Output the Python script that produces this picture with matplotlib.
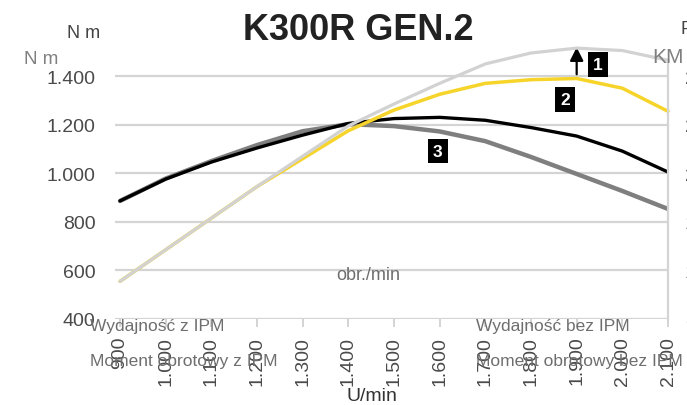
import matplotlib
matplotlib.use("Agg")
import matplotlib.pyplot as plt
from matplotlib import font_manager

# pick a condensed face for the captions if there is one
names = set(f.name for f in font_manager.fontManager.ttflist)
narrow = "Liberation Sans Narrow" if "Liberation Sans Narrow" in names else None
base = "Liberation Sans" if "Liberation Sans" in names else "DejaVu Sans"
cap = narrow or base
csize = 16 if narrow else 12.5   # caption size, smaller when not condensed

rpm = [900, 1000, 1100, 1200, 1300, 1400, 1500, 1600, 1700, 1800, 1900, 2000, 2100]
rpm_labels = ["900", "1.000", "1.100", "1.200", "1.300", "1.400", "1.500",
              "1.600", "1.700", "1.800", "1.900", "2.000", "2.100"]

# power, KM (right axis)
power_bez = [111, 137, 163, 189, 214, 239, 257, 274, 290, 299, 303, 301, 293]
power_z = [111, 137, 163, 189, 212, 235, 252, 265, 274, 277, 278, 270, 251]

# torque, Nm (left axis)
torque_bez = [886, 976, 1046, 1104, 1157, 1205, 1225, 1230, 1218, 1188, 1153, 1091, 1005]
torque_z = [886, 978, 1050, 1116, 1173, 1202, 1194, 1172, 1132, 1067, 997, 927, 853]

nm_ticks = [400, 600, 800, 1000, 1200, 1400]
nm_labels = ["400", "600", "800", "1.000", "1.200", "1.400"]
km_ticks = [80, 120, 160, 200, 240, 280]

W, H = 687, 406
fig = plt.figure(figsize=(W / 100, H / 100), dpi=100)
ax = fig.add_axes([115 / W, 1 - 320 / H, (668 - 115) / W, (320 - 62) / H])
ax2 = ax.twinx()

ax.set_xlim(889, 2100)
ax.set_ylim(400, 1462)
ax2.set_ylim(80, 80 + (1462 - 400) * 0.2)

ax.grid(axis="y", color="#d4d4d4", lw=1.6)
ax.set_axisbelow(True)
for s in ["top", "left", "bottom", "right"]:
    ax.spines[s].set_visible(False)
    ax2.spines[s].set_visible(False)
ax2.spines["right"].set_visible(True)
ax2.spines["right"].set_color("#d4d4d4")
ax2.spines["right"].set_linewidth(1.6)

ax.plot(rpm, torque_z, color="#7f7f7f", lw=3.2, solid_capstyle="round", zorder=3)
ax.plot(rpm, torque_bez, color="black", lw=2.4, solid_capstyle="round", zorder=4)
ax2.plot(rpm, power_z, color="#f6d42a", lw=2.5, solid_capstyle="round", clip_on=False)
ax2.plot(rpm, power_bez, color="#d2d2d2", lw=2.3, solid_capstyle="round", clip_on=False)

ax.set_xticks(rpm)
ax.set_xticklabels(rpm_labels, rotation=90, fontsize=14, color="#4a4a4a", family=base)
ax.tick_params(axis="x", length=6, width=1.4, color="#d4d4d4", pad=6)
ax.set_yticks(nm_ticks)
ax.set_yticklabels(nm_labels, fontsize=14, color="#4a4a4a", family=base)
ax.tick_params(axis="y", length=0, pad=14)
ax2.set_yticks(km_ticks)
ax2.set_yticklabels([str(v) for v in km_ticks], fontsize=14, color="#4a4a4a", family=base)
ax2.tick_params(axis="y", length=0, pad=12)

# markers 1-3 and arrow
box = dict(boxstyle="square,pad=0.28", fc="black", ec="none")
ax.text(1947, 1449, "1", color="white", fontsize=12.5, fontweight="bold",
        ha="center", va="center", bbox=box, family=base)
ax.text(1874, 1305, "2", color="white", fontsize=12.5, fontweight="bold",
        ha="center", va="center", bbox=box, family=base)
ax.text(1596, 1091, "3", color="white", fontsize=12.5, fontweight="bold",
        ha="center", va="center", bbox=box, family=base)
ax.annotate("", xy=(1900, 1530), xytext=(1900, 1396),
            arrowprops=dict(arrowstyle="-|>,head_width=0.4,head_length=0.8",
                            color="black", lw=1.6), annotation_clip=False)

def ftext(x, y, s, **kw):
    fig.text(x / W, 1 - y / H, s, **kw)

ftext(358, 30, "K300R GEN.2", fontsize=26, fontweight="bold", color="#222222",
      ha="center", va="center", family=base)
ftext(100, 33, "N m", fontsize=13, color="#444444", ha="right", va="center", family=base)
ftext(24, 59, "N m", fontsize=13.5, color="#808080", ha="left", va="center", family=cap)
ftext(652, 58, "KM", fontsize=15, color="#808080", ha="left", va="center", family=cap)
ftext(681, 30, "P", fontsize=13, color="#444444", ha="left", va="center", family=base)
ftext(368, 275, "obr./min", fontsize=13, color="#6e6e6e", ha="center", va="center", family=cap)
ftext(90, 327, "Wydajność z IPM", fontsize=csize, color="#6e6e6e", ha="left", va="center", family=cap)
ftext(90, 362, "Moment obrotowy z IPM", fontsize=csize, color="#6e6e6e", ha="left", va="center", family=cap)
ftext(476, 327, "Wydajność bez IPM", fontsize=csize, color="#6e6e6e", ha="left", va="center", family=cap)
ftext(476, 362, "Moment obrotowy bez IPM", fontsize=csize, color="#6e6e6e", ha="left", va="center", family=cap)
ftext(372, 397, "U/min", fontsize=14, color="#333333", ha="center", va="center", family=base)

fig.savefig("out.png", dpi=100)
